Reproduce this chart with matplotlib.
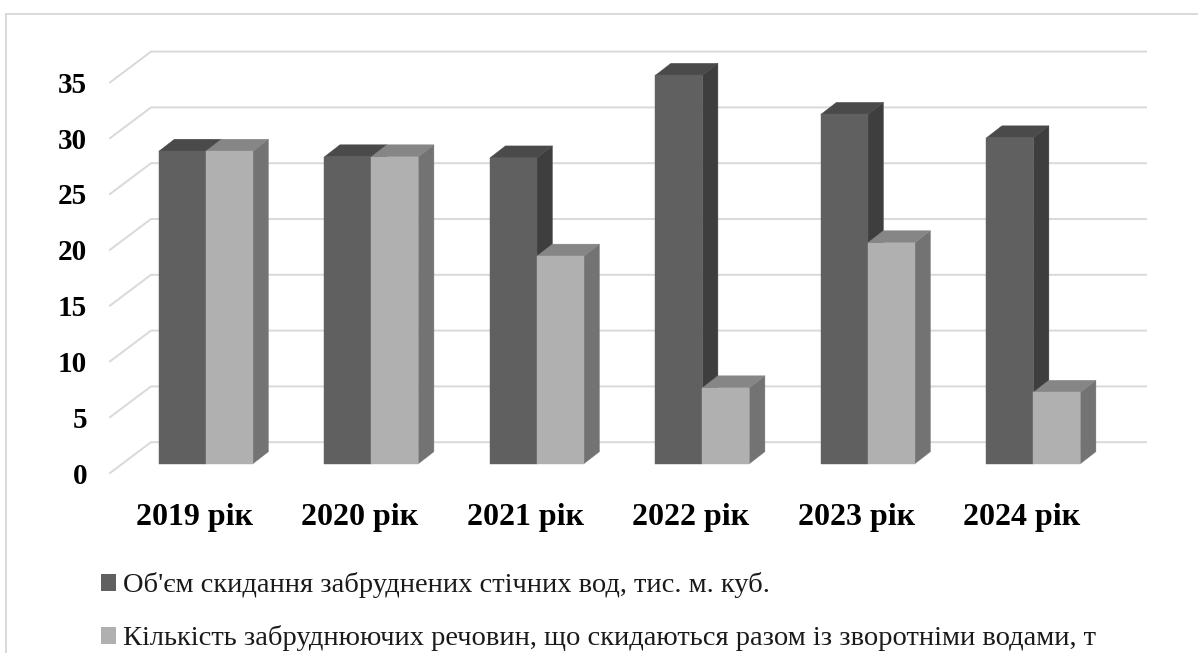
import matplotlib
matplotlib.use("Agg")
import matplotlib.pyplot as plt
from matplotlib.patches import Polygon, Patch, Rectangle

# ---- data ----
categories = ["2019 рік", "2020 рік", "2021 рік", "2022 рік", "2023 рік", "2024 рік"]
volume = [28.0, 27.5, 27.4, 34.8, 31.3, 29.2]
pollutants = [28.0, 27.5, 18.6, 6.8, 19.8, 6.4]
series_names = ["Об'єм скидання забруднених стічних вод, тис. м. куб.",
                "Кількість забруднюючих речовин, що скидаються разом із зворотніми водами, т"]
y_ticks = [0, 5, 10, 15, 20, 25, 30, 35]

# ---- style (pixels of the 1198x653 canvas) ----
W, H = 1198, 653
PX_Y = 11.16          # pixels per value unit
PX_X = 165.5          # pixels per category
L, R = 110, 1146      # horizontal extent of the plot box
FRONT0 = 473          # y pixel of the front floor edge
BAR0 = 463.7          # y pixel of the bars' base
TOP = 40              # upper y pixel of the axes
G0 = 158.7 + 47.2     # x pixel of the first category centre
LABEL_SHIFT = 11.5    # category labels sit on the front plane, left of the bars
WALL_DX, WALL_DY = 41, 30.8
BAR_DX, BAR_DY = 15.5, 12
BAR_W = 47.0
GRID = "#d9d9d9"
FACE = {0: ("#606060", "#4a4a4a", "#3e3e3e"), 1: ("#b0b0b0", "#868686", "#737373")}
FONT = "Liberation Serif"

plt.rcParams["font.family"] = [FONT, "DejaVu Sans"]
fig = plt.figure(figsize=(W / 100, H / 100), dpi=100, facecolor="white")

# outer chart frame (right and bottom edges fall outside the picture)
fig.add_artist(Rectangle((6 / W, -0.05), 1.05, 1.05 - 14 / H, transform=fig.transFigure,
                         fill=False, edgecolor=GRID, lw=1.4))

pos = [L / W, 1 - FRONT0 / H, (R - L) / W, (FRONT0 - TOP) / H]
xlim = ((L - G0) / PX_X, (R - G0) / PX_X)

# back axes: wall grid and value labels, on the front floor edge
back = fig.add_axes(pos, facecolor="none")
back.set_xlim(xlim)
back.set_ylim(0, (FRONT0 - TOP) / PX_Y)
ddx, ddy = WALL_DX / PX_X, WALL_DY / PX_Y
for v in y_ticks:
    back.plot([xlim[0], xlim[0] + ddx, xlim[1]], [v, v + ddy, v + ddy], color=GRID, lw=1.4,
              solid_joinstyle="miter", clip_on=False, zorder=1)
back.set_xticks([])
back.set_yticks(y_ticks)
back.set_yticklabels([str(v) for v in y_ticks], fontsize=21, fontweight="bold", color="black")
back.tick_params(axis="y", length=0, pad=16.5)
for s in back.spines.values():
    s.set_visible(False)

# front axes: bars and category labels
ax = fig.add_axes(pos, facecolor="none")
ax.set_xlim(xlim)
ax.set_ylim((BAR0 - FRONT0) / PX_Y, (BAR0 - TOP) / PX_Y)
bw, dx, dy = BAR_W / PX_X, BAR_DX / PX_X, BAR_DY / PX_Y


def bar3d(x0, v, colours, z):
    front, top, side = colours
    ax.add_patch(Polygon([(x0 + bw, 0), (x0 + bw + dx, dy), (x0 + bw + dx, v + dy), (x0 + bw, v)],
                         facecolor=side, edgecolor=side, lw=0.3, zorder=z))
    ax.add_patch(Polygon([(x0, v), (x0 + dx, v + dy), (x0 + bw + dx, v + dy), (x0 + bw, v)],
                         facecolor=top, edgecolor=top, lw=0.3, zorder=z))
    ax.add_patch(Polygon([(x0, 0), (x0 + bw, 0), (x0 + bw, v), (x0, v)],
                         facecolor=front, edgecolor=front, lw=0.3, zorder=z))


for i in range(len(categories)):
    bar3d(i - bw, volume[i], FACE[0], 2 + i * 2)
    bar3d(i, pollutants[i], FACE[1], 3 + i * 2)

ax.set_yticks([])
ax.set_xticks([i - LABEL_SHIFT / PX_X for i in range(len(categories))])
ax.set_xticklabels(categories, fontsize=23, fontweight="bold", color="black")
ax.tick_params(axis="x", length=0, pad=21.5)
for s in ax.spines.values():
    s.set_visible(False)

handles = [Patch(facecolor=FACE[0][0], label=series_names[0]),
           Patch(facecolor=FACE[1][0], label=series_names[1])]
fig.legend(handles=handles, loc="upper left", bbox_to_anchor=(101 / W, 1 - 572.5 / H),
           frameon=False, fontsize=20.5, labelspacing=0.94, handlelength=0.53, handleheight=0.53,
           handletextpad=0.25, borderpad=0, borderaxespad=0, labelcolor="#1a1a1a")

fig.savefig("out.png", dpi=100, facecolor="white")
